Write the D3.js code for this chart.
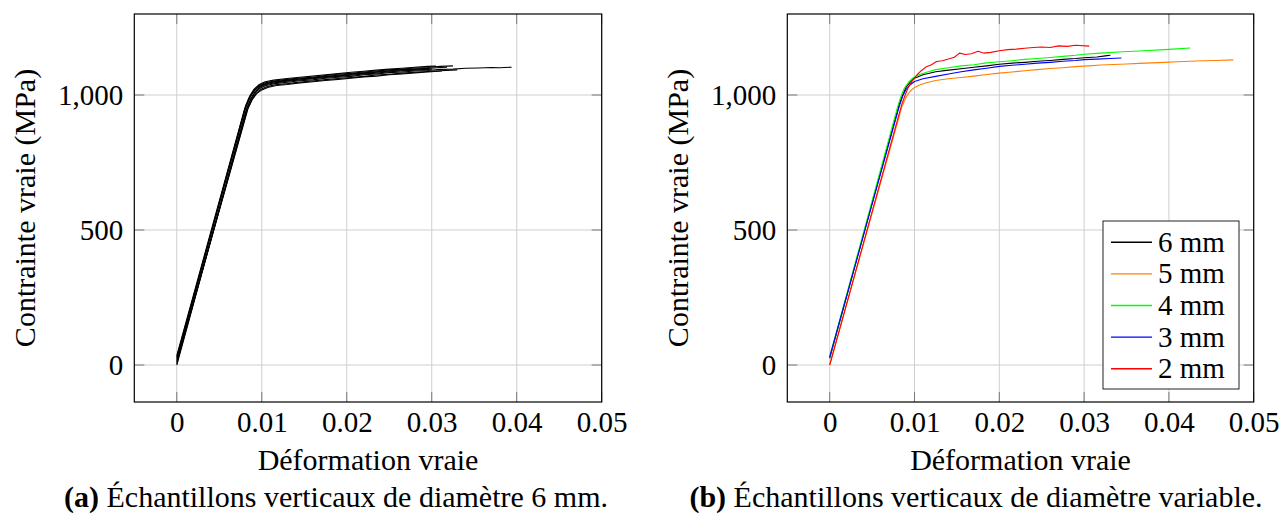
<!DOCTYPE html>
<html>
<head>
<meta charset="utf-8">
<script src="https://d3js.org/d3.v7.min.js"></script>
<style>
  body { margin: 0; background: #fff; }
  svg { display: block; }
</style>
</head>
<body>
<script>
// axis ticks
var xTicks = [0, 0.01, 0.02, 0.03, 0.04, 0.05];
var xTickLabels = ["0", "0.01", "0.02", "0.03", "0.04", "0.05"];
var yTicks = [0, 500, 1000];
var yTickLabels = ["0", "500", "1,000"];

// (a) vertical samples, 6 mm  -- [strain, stress MPa]
var a1 = [[0,0],[0.0082,945],[0.0087,982],[0.0092,1008],[0.0098,1025],[0.0105,1035],[0.0115,1042],[0.013,1047],[0.0145,1053],[0.016,1056],[0.0175,1062],[0.019,1066],[0.0205,1069],[0.022,1075],[0.0235,1078],[0.025,1083],[0.0265,1085],[0.028,1089],[0.0295,1091],[0.031,1095],[0.0325,1096],[0.034,1099],[0.0355,1100],[0.037,1102],[0.038,1101],[0.0394,1103]];
var a2 = [[0,20],[0.0081,955],[0.0086,992],[0.0091,1018],[0.0097,1035],[0.0104,1045],[0.0114,1052],[0.013,1058],[0.0145,1063],[0.016,1066],[0.0175,1072],[0.019,1077],[0.0205,1080],[0.022,1085],[0.0235,1089],[0.025,1093],[0.0265,1096],[0.028,1100],[0.0295,1102],[0.031,1106],[0.0325,1108]];
var a3 = [[0,35],[0.008,950],[0.0085,988],[0.009,1014],[0.0096,1030],[0.0103,1040],[0.0113,1047],[0.013,1053],[0.0145,1059],[0.016,1062],[0.0175,1068],[0.019,1071],[0.0205,1076],[0.022,1080],[0.0235,1084],[0.025,1089],[0.0265,1091],[0.028,1095],[0.0295,1098],[0.031,1102],[0.0318,1103]];
var a4 = [[0,10],[0.0083,945],[0.0088,980],[0.0093,1005],[0.0099,1021],[0.0106,1031],[0.0116,1038],[0.013,1042],[0.0145,1048],[0.016,1052],[0.0175,1057],[0.019,1061],[0.0205,1065],[0.022,1069],[0.0235,1074],[0.025,1077],[0.0265,1081],[0.028,1084],[0.0295,1087],[0.031,1090],[0.033,1093]];
var a5 = [[0,5],[0.0082,948],[0.0087,986],[0.0092,1012],[0.0098,1029],[0.0105,1039],[0.0115,1045],[0.013,1051],[0.0145,1056],[0.016,1060],[0.0175,1065],[0.019,1069],[0.0205,1073],[0.022,1078],[0.0235,1081],[0.025,1086],[0.0265,1089],[0.028,1092],[0.03,1096]];
var a6 = [[0,25],[0.0081,960],[0.0086,997],[0.0091,1022],[0.0097,1039],[0.0104,1049],[0.0114,1055],[0.013,1061],[0.0145,1066],[0.016,1070],[0.0175,1075],[0.019,1079],[0.0205,1084],[0.022,1088],[0.0235,1092],[0.025,1096],[0.0265,1099],[0.028,1103],[0.0295,1106],[0.0305,1107]];
var a7 = [[0,15],[0.0084,952],[0.0089,985],[0.0094,1005],[0.01,1019],[0.0107,1028],[0.0117,1035],[0.013,1039],[0.0145,1045],[0.016,1049],[0.0175,1054],[0.019,1058],[0.0205,1062],[0.022,1067],[0.0235,1070],[0.025,1075],[0.0265,1078],[0.028,1082],[0.0295,1085],[0.0312,1089]];
var a8 = [[0,30],[0.0081,952],[0.0086,990],[0.0091,1015],[0.0097,1032],[0.0104,1042],[0.0114,1049],[0.013,1055],[0.0145,1060],[0.016,1064],[0.0175,1069],[0.019,1073],[0.0205,1078],[0.022,1082],[0.0235,1086],[0.025,1090],[0.0265,1094],[0.0296,1099]];

// (b) vertical samples, variable diameter
var d6 = [[0,25],[0.0082,965],[0.0086,1000],[0.009,1028],[0.0095,1048],[0.01,1062],[0.011,1075],[0.0125,1086],[0.014,1092],[0.0155,1097],[0.017,1103],[0.0185,1108],[0.02,1114],[0.0215,1118],[0.023,1121],[0.0245,1125],[0.026,1128],[0.0275,1132],[0.029,1135],[0.03,1138],[0.0315,1141],[0.0325,1145],[0.0331,1147]];
var d5 = [[0,0],[0.0085,955],[0.009,992],[0.0095,1014],[0.01,1028],[0.0107,1038],[0.0115,1046],[0.0125,1054],[0.014,1060],[0.0155,1065],[0.017,1070],[0.0185,1076],[0.02,1081],[0.0215,1085],[0.023,1090],[0.0245,1094],[0.026,1098],[0.0275,1101],[0.029,1105],[0.0305,1108],[0.032,1111],[0.0335,1113],[0.035,1115],[0.0365,1117],[0.038,1119],[0.0395,1121],[0.041,1123],[0.0425,1125],[0.044,1127],[0.0455,1128],[0.0476,1130]];
var d4 = [[0,30],[0.008,955],[0.0084,995],[0.0088,1025],[0.0093,1048],[0.0098,1063],[0.0105,1075],[0.0115,1085],[0.0125,1094],[0.014,1101],[0.0155,1108],[0.017,1112],[0.0185,1119],[0.02,1123],[0.0215,1127],[0.023,1132],[0.0245,1135],[0.026,1139],[0.0275,1143],[0.029,1147],[0.03,1151],[0.0315,1154],[0.033,1157],[0.0345,1160],[0.036,1162],[0.0375,1165],[0.039,1167],[0.0405,1170],[0.0425,1174]];
var d3mm = [[0,30],[0.0082,958],[0.0086,995],[0.009,1020],[0.0095,1038],[0.01,1050],[0.011,1060],[0.0125,1069],[0.014,1078],[0.0155,1086],[0.017,1093],[0.0185,1099],[0.02,1106],[0.0215,1110],[0.023,1114],[0.0245,1118],[0.026,1121],[0.0275,1125],[0.029,1128],[0.03,1131],[0.0315,1133],[0.033,1135],[0.0344,1137]];
var d2 = [[0,0],[0.0085,965],[0.0089,1000],[0.0093,1030],[0.0098,1055],[0.0103,1075],[0.0108,1090],[0.0114,1105],[0.012,1112],[0.0126,1124],[0.0133,1127],[0.014,1133],[0.0147,1140],[0.0153,1155],[0.016,1150],[0.0167,1153],[0.0175,1162],[0.0182,1155],[0.019,1158],[0.02,1164],[0.021,1168],[0.022,1170],[0.023,1173],[0.024,1176],[0.025,1178],[0.026,1176],[0.027,1182],[0.028,1180],[0.029,1184],[0.0306,1181]];

var legendLabels = ["6 mm", "5 mm", "4 mm", "3 mm", "2 mm"];
var legendColors = ["#000000", "#ff8000", "#00ff00", "#0000ff", "#ff0000"];

var W = 1279, H = 517;
var FONT = "'Liberation Serif', 'Times New Roman', serif";
var pTop = 14, pBottom = 402;

var svg = d3.select("body").append("svg")
  .attr("width", W).attr("height", H)
  .style("font-family", FONT);

function panel(left, right, series, colors, yTitleX, caption, capTag, capX) {
  var x = d3.scaleLinear().domain([-0.005, 0.05]).range([left, right]);
  var y = d3.scaleLinear().domain([-137, 1300]).range([pBottom, pTop]);
  var g = svg.append("g");

  // grid
  g.selectAll(".gx").data(xTicks).enter().append("line")
    .attr("x1", function(d){ return x(d); }).attr("x2", function(d){ return x(d); })
    .attr("y1", pTop).attr("y2", pBottom)
    .attr("stroke", "#cfcfcf").attr("stroke-width", 1);
  g.selectAll(".gy").data(yTicks).enter().append("line")
    .attr("x1", left).attr("x2", right)
    .attr("y1", function(d){ return y(d); }).attr("y2", function(d){ return y(d); })
    .attr("stroke", "#cfcfcf").attr("stroke-width", 1);

  // inner tick marks
  var tl = 10;
  xTicks.forEach(function(d){
    g.append("line").attr("x1", x(d)).attr("x2", x(d)).attr("y1", pBottom).attr("y2", pBottom - tl).attr("stroke", "#7a7a7a");
    g.append("line").attr("x1", x(d)).attr("x2", x(d)).attr("y1", pTop).attr("y2", pTop + tl).attr("stroke", "#7a7a7a");
  });
  yTicks.forEach(function(d){
    g.append("line").attr("x1", left).attr("x2", left + tl).attr("y1", y(d)).attr("y2", y(d)).attr("stroke", "#7a7a7a");
    g.append("line").attr("x1", right).attr("x2", right - tl).attr("y1", y(d)).attr("y2", y(d)).attr("stroke", "#7a7a7a");
  });

  // curves
  var line = d3.line().x(function(d){ return x(d[0]); }).y(function(d){ return y(d[1]); });
  series.forEach(function(s, i){
    g.append("path").datum(s).attr("d", line)
      .attr("fill", "none").attr("stroke", colors[i]).attr("stroke-width", 1.1)
      .attr("stroke-linejoin", "round");
  });

  // frame
  g.append("rect").attr("x", left).attr("y", pTop).attr("width", right - left).attr("height", pBottom - pTop)
    .attr("fill", "none").attr("stroke", "#000").attr("stroke-width", 1.2);

  // axes labels
  var ax = g.append("g").attr("transform", "translate(0," + pBottom + ")")
    .call(d3.axisBottom(x).tickValues(xTicks).tickFormat(function(d, i){ return xTickLabels[i]; }).tickSize(0).tickPadding(9));
  var ay = g.append("g").attr("transform", "translate(" + left + ",0)")
    .call(d3.axisLeft(y).tickValues(yTicks).tickFormat(function(d, i){ return yTickLabels[i]; }).tickSize(0).tickPadding(11));
  [ax, ay].forEach(function(a){
    a.select(".domain").remove();
    a.attr("font-family", FONT).attr("font-size", 29);
    a.selectAll("text").attr("fill", "#000");
  });

  g.append("text").attr("x", (left + right) / 2).attr("y", 470)
    .attr("text-anchor", "middle").attr("font-size", 30).text("Déformation vraie");
  g.append("text").attr("transform", "translate(" + yTitleX + "," + ((pTop + pBottom) / 2) + ") rotate(-90)")
    .attr("text-anchor", "middle").attr("font-size", 30).text("Contrainte vraie (MPa)");

  var cap = g.append("text").attr("x", capX).attr("y", 507).attr("text-anchor", "middle").attr("font-size", 30);
  cap.append("tspan").attr("font-weight", "bold").text(capTag);
  cap.append("tspan").text(" " + caption);
  return {x: x, y: y, g: g};
}

panel(134.3, 601.7, [a1, a2, a3, a4, a5, a6, a7, a8],
  ["#000","#000","#000","#000","#000","#000","#000","#000"], 35,
  "Échantillons verticaux de diamètre 6 mm.", "(a)", 336);

panel(787.3, 1253.7, [d6, d5, d4, d3mm, d2], legendColors, 688,
  "Échantillons verticaux de diamètre variable.", "(b)", 976);

// legend
var lg = svg.append("g");
lg.append("rect").attr("x", 1103).attr("y", 221).attr("width", 136).attr("height", 168)
  .attr("fill", "#fff").attr("stroke", "#222").attr("stroke-width", 1);
legendLabels.forEach(function(t, i){
  var yy = 242.3 + i * 31.6;
  lg.append("line").attr("x1", 1111).attr("x2", 1152).attr("y1", yy).attr("y2", yy)
    .attr("stroke", legendColors[i]).attr("stroke-width", 1.4);
  lg.append("text").attr("x", 1158).attr("y", yy + 9.5).attr("font-size", 29).text(t);
});
</script>
</body>
</html>
